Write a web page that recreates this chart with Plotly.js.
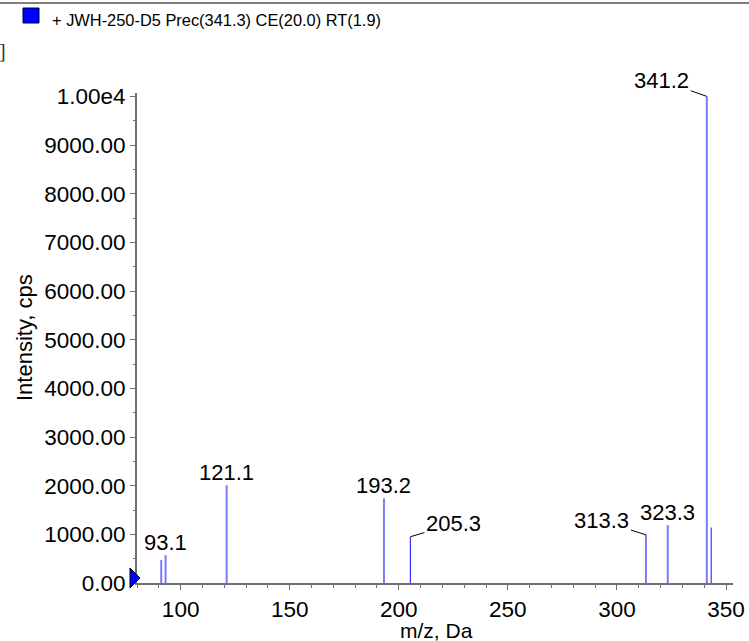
<!DOCTYPE html>
<html>
<head>
<meta charset="utf-8">
<script src="https://cdn.plot.ly/plotly-3.0.1.min.js"></script>
<style>html,body{margin:0;padding:0;background:#fff;}#chart{width:749px;height:641px;}</style>
</head>
<body>
<div id="chart"></div>
<script>
// ---- data ----
const mz        = [91.1, 93.1, 121.1, 193.2, 205.3, 313.3, 323.3, 341.2, 343.2];
const intensity = [470, 570, 2010, 1740, 950, 990, 1190, 10000, 1140];
const peakLabels = ["", "93.1", "121.1", "193.2", "205.3", "313.3", "323.3", "341.2", ""];
const yTickVals = [0, 1000, 2000, 3000, 4000, 5000, 6000, 7000, 8000, 9000, 10000];
const yTickText = ["0.00", "1000.00", "2000.00", "3000.00", "4000.00", "5000.00", "6000.00", "7000.00", "8000.00", "9000.00", "1.00e4"];
const xTickVals = [100, 150, 200, 250, 300, 350];
const chartTitle = "+ JWH-250-D5 Prec(341.3) CE(20.0) RT(1.9)";
const xTitle = "m/z, Da";
const yTitle = "Intensity, cps";

// ---- styling ----
const darkPeaks = [205.3, 343.2];        // thin, saturated sticks
const leader = {                           // label offsets (px) for labels with leader lines
  "205.3": [43, -13],
  "313.3": [-44, -14],
  "341.2": [-45, -16]
};
const FONT = "Liberation Sans, Arial, sans-serif";
const L = 137, R = 16, T = 93, B = 58, W = 749, H = 641;
const PW = W - L - R, PH = H - T - B;
const px = x => (x - L) / PW;            // pixel -> paper x
const py = y => (H - B - y) / PH;        // pixel -> paper y

function sticks(filterFn) {
  const xs = [], ys = [];
  mz.forEach((m, i) => {
    if (!filterFn(m)) return;
    xs.push(m, m, null);
    ys.push(0, intensity[i], null);
  });
  return {xs, ys};
}
const light = sticks(m => !darkPeaks.includes(m));
const dark = sticks(m => darkPeaks.includes(m));

const traces = [
  {type: "scatter", mode: "lines", x: light.xs, y: light.ys,
   line: {color: "#7a7aff", width: 2}, hoverinfo: "skip", showlegend: false},
  {type: "scatter", mode: "lines", x: dark.xs, y: dark.ys,
   line: {color: "#1010ff", width: 1}, hoverinfo: "skip", showlegend: false}
];

const annotations = [];
mz.forEach((m, i) => {
  const lab = peakLabels[i];
  if (!lab) return;
  if (leader[lab]) {
    annotations.push({x: m, y: intensity[i], xref: "x", yref: "y", text: lab,
      showarrow: true, arrowhead: 0, arrowwidth: 1, arrowcolor: "#000",
      ax: leader[lab][0], ay: leader[lab][1], standoff: 0,
      font: {family: FONT, size: 22, color: "#000"}});
  } else {
    annotations.push({x: m, y: intensity[i], xref: "x", yref: "y", text: lab,
      showarrow: false, yanchor: "bottom", yshift: -2,
      font: {family: FONT, size: 22, color: "#000"}});
  }
});
// header text
annotations.push({xref: "paper", yref: "paper", x: px(50), y: py(20),
  xanchor: "left", yanchor: "middle", showarrow: false, text: chartTitle,
  font: {family: FONT, size: 16.4, color: "#000"}});
annotations.push({xref: "paper", yref: "paper", x: px(-3), y: py(51),
  xanchor: "left", yanchor: "middle", showarrow: false, text: "]",
  font: {family: "Liberation Serif, serif", size: 20, color: "#333"}});
// axis titles
annotations.push({xref: "paper", yref: "paper", x: px(24), y: py(338),
  xanchor: "center", yanchor: "middle", showarrow: false, text: yTitle, textangle: -90,
  font: {family: FONT, size: 22, color: "#000"}});
annotations.push({xref: "paper", yref: "paper", x: px(436), y: py(630),
  xanchor: "center", yanchor: "middle", showarrow: false, text: xTitle,
  font: {family: FONT, size: 21, color: "#000"}});

const shapes = [
  // top rule
  {type: "line", xref: "paper", yref: "paper", x0: px(0), x1: px(W),
   y0: py(3), y1: py(3), line: {color: "#000", width: 1}},
  // legend swatch
  {type: "rect", xref: "paper", yref: "paper", x0: px(23), x1: px(39),
   y0: py(23), y1: py(8), fillcolor: "#0000ff", line: {color: "#000033", width: 1}},
  // baseline triangle marker (left of the y axis at intensity 0)
  {type: "path", xref: "paper", yref: "paper", xsizemode: "pixel", ysizemode: "pixel",
   xanchor: 0, yanchor: 0, path: "M 3 5 L -7 15 L -7 -5 Z",
   fillcolor: "#0000ff", line: {color: "#000", width: 1}}
];

const layout = {
  width: W, height: H,
  margin: {l: L, r: R, t: T, b: B, pad: 0},
  paper_bgcolor: "#fff", plot_bgcolor: "#fff",
  showlegend: false,
  font: {family: FONT, color: "#000"},
  xaxis: {
    range: [80, 353.2], showgrid: false, zeroline: false,
    showline: true, linecolor: "#707070", linewidth: 2,
    ticks: "outside", ticklen: 5, tickcolor: "#707070", tickwidth: 1,
    tickvals: xTickVals,
    tickfont: {family: FONT, size: 22.5, color: "#000"},
    minor: {dtick: 10, tick0: 0, ticks: "outside", ticklen: 3, tickcolor: "#707070", tickwidth: 1, showgrid: false}
  },
  yaxis: {
    range: [0, 10070], showgrid: false, zeroline: false,
    showline: true, linecolor: "#707070", linewidth: 2,
    ticks: "outside", ticklen: 5, tickcolor: "#707070", tickwidth: 1,
    tickvals: yTickVals, ticktext: yTickText,
    tickfont: {family: FONT, size: 22.5, color: "#000"},
    minor: {dtick: 500, tick0: 0, ticks: "outside", ticklen: 2, tickcolor: "#707070", tickwidth: 1, showgrid: false}
  },
  annotations: annotations,
  shapes: shapes
};

Plotly.newPlot("chart", traces, layout, {staticPlot: true, displayModeBar: false});
</script>
</body>
</html>
